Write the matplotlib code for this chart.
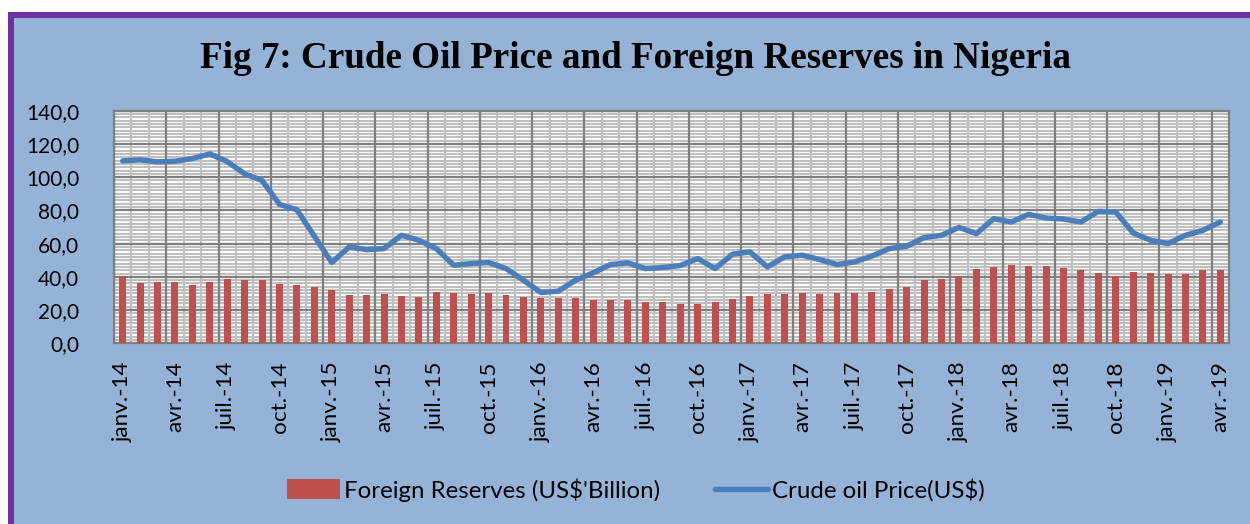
import matplotlib
matplotlib.use("Agg")
import matplotlib.pyplot as plt
from matplotlib.patches import Rectangle
import numpy as np

# ---- data ----
years = [14, 15, 16, 17, 18, 19]
month_abbr = ["janv.", "avr.", "juil.", "oct."]
reserves = [40.4, 36.4, 37.0, 36.6, 35.0, 36.8, 38.6, 38.4, 37.8, 35.8, 35.0, 33.8,
            32.0, 29.2, 29.0, 29.4, 28.2, 28.0, 30.8, 30.2, 29.6, 30.0, 29.0, 27.8,
            27.2, 27.2, 27.0, 26.0, 26.0, 25.8, 25.0, 24.6, 23.4, 23.4, 24.6, 26.6,
            28.2, 29.6, 29.6, 30.2, 29.4, 30.0, 30.4, 30.8, 32.8, 33.8, 37.8, 38.8,
            40.8, 44.8, 46.2, 47.0, 46.4, 46.8, 45.4, 44.0, 42.2, 40.4, 43.0, 42.2,
            42.0, 41.8, 44.4, 44.0]
oil_price = [109.8, 110.4, 109.2, 109.6, 111.2, 114.0, 109.4, 102.0, 98.0, 83.6, 80.4, 64.4,
             48.6, 58.0, 56.4, 57.0, 65.0, 62.0, 57.0, 47.0, 48.0, 48.6, 45.0, 38.0,
             30.6, 31.4, 38.0, 42.4, 47.4, 48.4, 45.0, 45.6, 46.8, 51.0, 45.0, 53.6,
             55.0, 46.0, 52.0, 53.0, 50.4, 47.4, 49.0, 52.5, 57.0, 58.4, 63.6, 65.0,
             69.8, 66.0, 75.0, 73.0, 77.6, 75.4, 74.8, 73.0, 79.4, 79.0, 66.4, 62.0,
             60.0, 65.0, 68.0, 73.0]
yticks = [0, 20, 40, 60, 80, 100, 120, 140]

n = len(reserves)
x = np.arange(n)
tick_pos = list(range(0, n, 3))
tick_labels = []
for i in tick_pos:
    yr = years[i // 12]
    tick_labels.append(f"{month_abbr[(i % 12) // 3]}-{yr}")

W, H = 1250, 524
fig = plt.figure(figsize=(W / 100, H / 100), dpi=100, facecolor="white")

def fx(px):
    return px / W

def fy(py):
    return 1 - py / H

# frame background
blue = "#95B3D7"
purple = "#7030A0"
fig.patches.append(Rectangle((fx(8), 0), 1 - fx(8), fy(12), transform=fig.transFigure,
                             facecolor=purple, edgecolor="none", zorder=-2))
fig.patches.append(Rectangle((fx(14), 0), 1 - fx(14), fy(18), transform=fig.transFigure,
                             facecolor=blue, edgecolor="none", zorder=-1))

left, right, top, bottom = 114, 1229, 110.7, 343.3
ax = fig.add_axes([fx(left), fy(bottom), fx(right - left), (bottom - top) / H])
ax.set_facecolor("white")

# grid
for v in np.arange(0, 140.01, 2):
    major = abs(v % 20) < 1e-6
    ax.axhline(v, color="#7F7F7F" if major else "#BFBFBF", lw=1.6 if major else 1.5,
               zorder=1.5 if major else 1)
for k in range(n + 1):
    b = k - 0.5
    major = k % 3 == 0
    ax.axvline(b, color="#7F7F7F" if major else "#BFBFBF", lw=1.6 if major else 1.5,
               zorder=1.5 if major else 1)

bars = ax.bar(x, reserves, width=0.4, color="#C0504D", zorder=3)
line, = ax.plot(x, oil_price, color="#4A7EBB", lw=3.9, zorder=4, solid_capstyle="round",
                solid_joinstyle="round")

ax.set_xlim(-0.5, n - 0.5)
ax.set_ylim(0, 140)
ax.set_yticks(yticks)
ax.set_yticklabels([f"{v:.1f}".replace(".", ",") for v in yticks])
ax.set_xticks(tick_pos)
ax.set_xticklabels(tick_labels, rotation=90)
ax.tick_params(axis="y", length=0, labelsize=15, colors="black", pad=25)
ax.tick_params(axis="x", length=0, labelsize=16.2, colors="black", pad=13)
for lab in ax.get_xticklabels() + ax.get_yticklabels():
    lab.set_fontfamily("Lato")
for s in ax.spines.values():
    s.set_color("#7F7F7F")
    s.set_linewidth(1.6)

fig.text(fx(635), fy(58), "Fig 7: Crude Oil Price and Foreign Reserves in Nigeria",
         ha="center", va="center", fontsize=26.7, fontweight="bold",
         fontfamily="Liberation Serif")

leg = fig.legend([bars, line], ["Foreign Reserves (US$'Billion)", "Crude oil Price(US$)"],
                 loc="center", bbox_to_anchor=(fx(636), fy(490)), ncol=2, frameon=False,
                 prop={"family": "Lato", "size": 17.3}, handlelength=2.2,
                 handleheight=0.9, handletextpad=0.15, columnspacing=2.3)

fig.savefig("out.png", dpi=100, facecolor="white")
